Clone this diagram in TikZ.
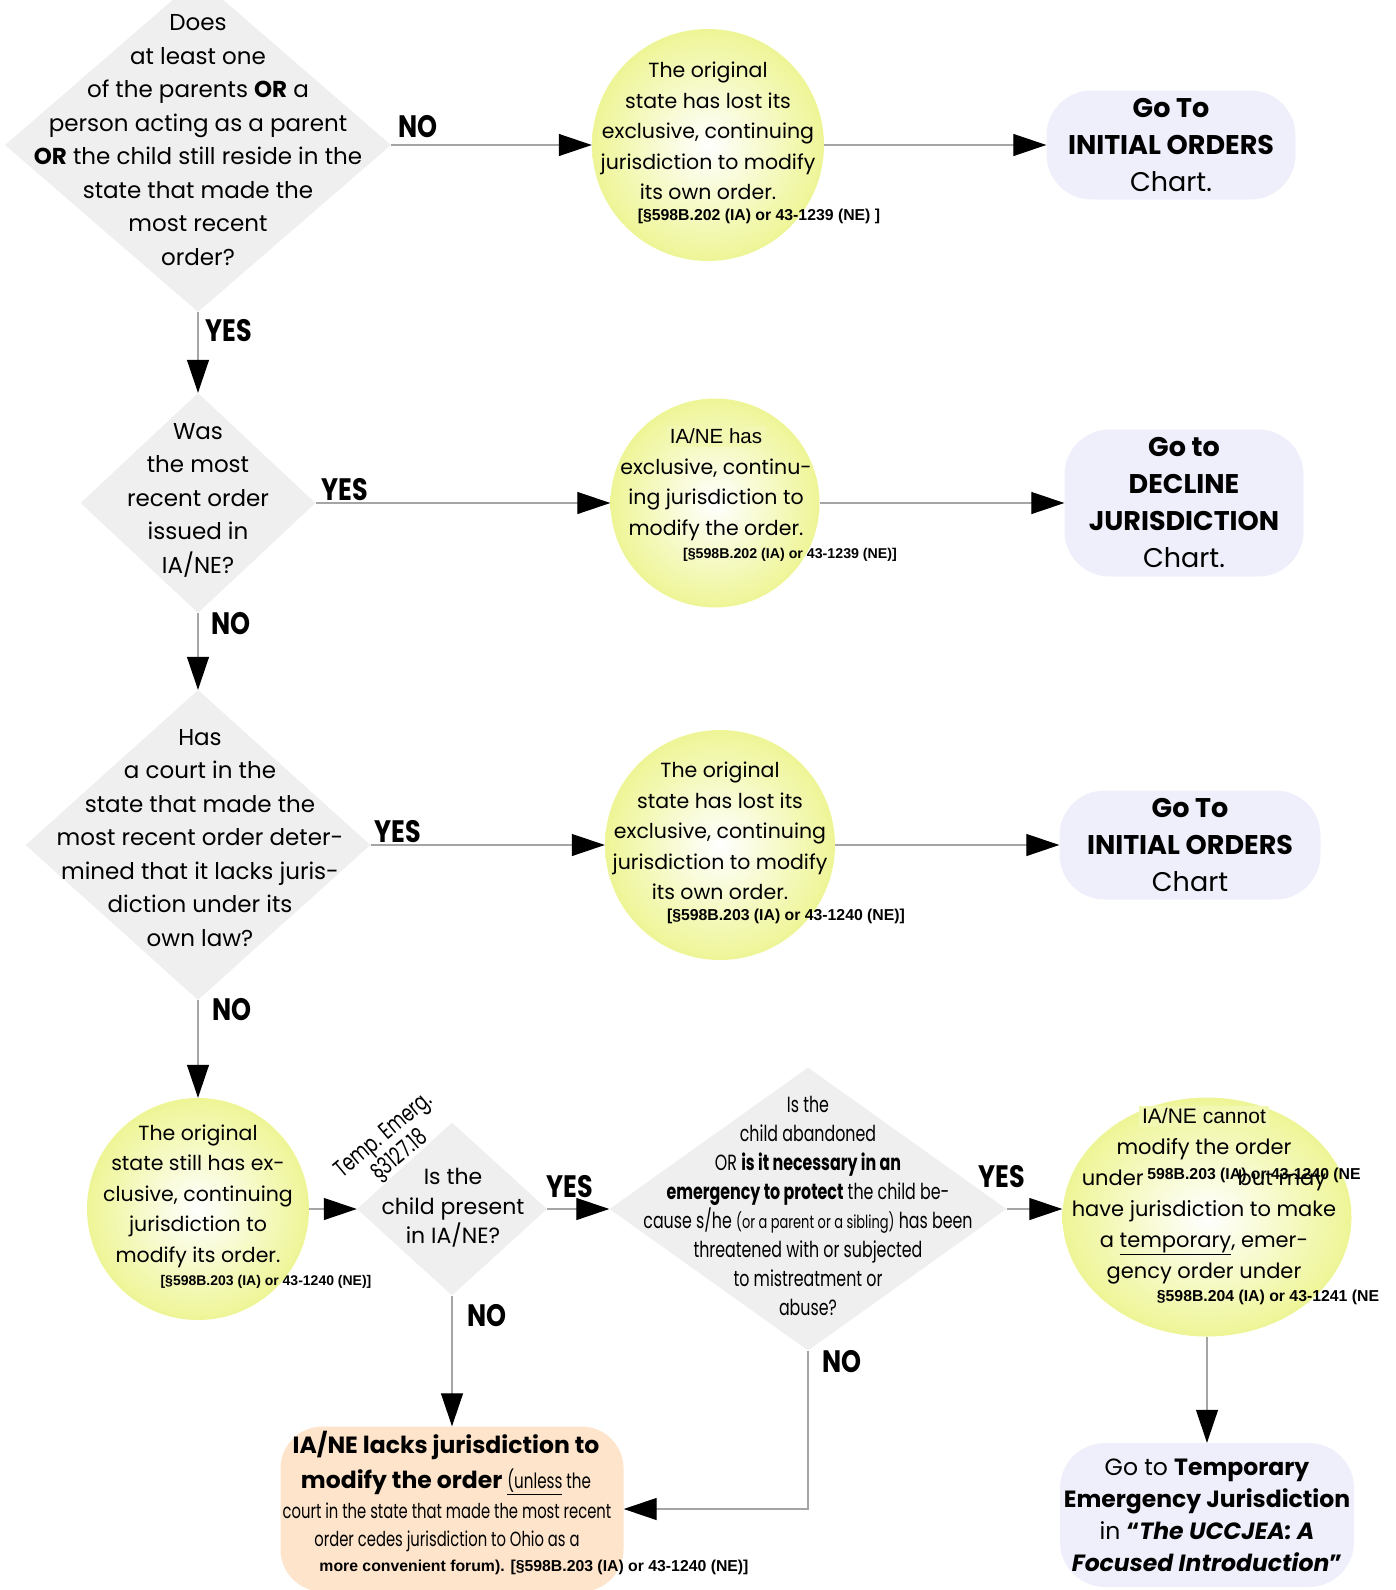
\documentclass[tikz,border=0pt]{standalone}
\usepackage{fontspec}
\setmainfont{Poppins}
\newfontfamily\condfont[FakeStretch=0.72]{Poppins}
\newfontfamily\ansfont[FakeStretch=0.82]{Poppins}
\newfontfamily\citefont{Liberation Sans}
\usetikzlibrary{shapes.geometric,arrows.meta}
\definecolor{dgray}{RGB}{239,239,239}
\definecolor{lgray}{RGB}{165,165,165}
\definecolor{cyel}{RGB}{238,245,150}
\definecolor{hyel}{RGB}{242,247,178}
\definecolor{lav}{RGB}{239,239,252}
\definecolor{peach}{RGB}{253,228,203}
\begin{document}
\begin{tikzpicture}[x=1pt,y=-1pt,
	decision/.style={diamond,fill=dgray,inner sep=0pt},
	ball/.style={circle,inner sep=0pt,inner color=white,outer color=cyel},
	oval/.style={ellipse,inner sep=0pt,inner color=white,outer color=cyel},
	goto/.style={rectangle,rounded corners=45pt,fill=lav,inner sep=0pt,align=center,font=\fontsize{27}{37}\selectfont},
	qtext/.style={align=center,inner sep=0pt,font=\fontsize{23}{33.5}\selectfont},
	btext/.style={align=center,inner sep=0pt,font=\fontsize{20.5}{30.5}\selectfont},
	ref/.style={inner sep=0pt,font=\citefont\bfseries\fontsize{15.8}{18}\selectfont},
	ans/.style={inner sep=0pt,font=\ansfont\bfseries\fontsize{31}{31}\selectfont},
	flow/.style={draw=lgray,line width=1.2pt,-{Triangle[length=33pt,width=22pt,color=black]}}]
	\useasboundingbox (0,0) rectangle (1396,1590);
	\clip (0,0) rectangle (1396,1590);
	% first row
	\node[decision,minimum width=386pt,minimum height=334pt] (d1) at (198,145) {};
	\node[qtext] (d1t) at (198,140) {Does\\at least one\\of the parents \textbf{OR} a\\person acting as a parent\\\textbf{OR} the child still reside in the\\state that made the\\most recent\\order?};
	\node[ball,minimum size=232pt] (c1) at (708,145) {};
	\node[btext] (c1t) at (708,131) {The original\\state has lost its\\exclusive, continuing\\jurisdiction to modify\\its own order.};
	\node[ref] (c1r) at (759,216) {[§598B.202 (IA) or 43-1239 (NE) ]};
	\node[goto,minimum width=249pt,minimum height=109pt] (b1) at (1171,145) {\textbf{Go To}\\\textbf{INITIAL ORDERS}\\Chart.};
	% second row
	\node[decision,minimum width=235pt,minimum height=220pt] (d2) at (198,503) {};
	\node[qtext] (d2t) at (198,500) {Was\\the most\\recent order\\issued in\\IA/NE?};
	\node[ball,minimum size=209pt] (c2) at (715,503) {};
	\node[btext] (c2t) at (716,483) {{\citefont\colorbox{hyel}{IA/NE has}}\\exclusive, continu-\\ing jurisdiction to\\modify the order.};
	\node[ref,font=\citefont\bfseries\fontsize{14.2}{16}\selectfont] (c2r) at (790,555) {[§598B.202 (IA) or 43-1239 (NE)]};
	\node[goto,minimum width=239pt,minimum height=147pt] (b2) at (1184,503) {\textbf{Go to}\\\textbf{DECLINE}\\\textbf{JURISDICTION}\\Chart.};
	% third row
	\node[decision,minimum width=345pt,minimum height=310pt] (d3) at (198,845) {};
	\node[qtext] (d3t) at (200,838) {Has\\a court in the\\state that made the\\most recent order deter-\\mined that it lacks juris-\\diction under its\\own law?};
	\node[ball,minimum size=230pt] (c3) at (720,845) {};
	\node[btext] (c3t) at (720,831) {The original\\state has lost its\\exclusive, continuing\\jurisdiction to modify\\its own order.};
	\node[ref] (c3r) at (786,916) {[§598B.203 (IA) or 43-1240 (NE)]};
	\node[goto,minimum width=261pt,minimum height=109pt] (b3) at (1190,845) {\textbf{Go To}\\\textbf{INITIAL ORDERS}\\Chart};
	% fourth row
	\node[ball,minimum size=222pt] (c4) at (198,1209) {};
	\node[btext] (c4t) at (198,1196) {The original\\state still has ex-\\clusive, continuing\\jurisdiction to\\modify its order.};
	\node[ref,font=\citefont\bfseries\fontsize{14}{16}\selectfont] (c4r) at (266,1282) {[§598B.203 (IA) or 43-1240 (NE)]};
	\node[decision,minimum width=190pt,minimum height=173pt] (d4) at (452,1209) {};
	\node[qtext,font=\fontsize{22}{29.5}\selectfont] (d4t) at (453,1208) {Is the\\child present\\in IA/NE?};
	\node[rotate=40,align=center,inner sep=0pt,font=\condfont\fontsize{24}{26}\selectfont] (tag) at (392,1146) {Temp. Emerg.\\§3127.18};
	\node[decision,minimum width=397pt,minimum height=283pt] (d5) at (808,1209) {};
	\node[qtext,font=\condfont\fontsize{22}{29}\selectfont] (d5t) at (808,1206) {Is the\\child abandoned\\OR \textbf{is it necessary in an}\\\textbf{emergency to protect} the child be-\\cause s/he {\fontsize{18}{29}\selectfont(or a parent or a sibling)} has been\\threatened with or subjected\\to mistreatment or\\abuse?};
	\node[oval,minimum width=289pt,minimum height=239pt] (c5) at (1207,1217) {};
	\node[btext,font=\fontsize{21}{31}\selectfont] (c5t) at (1204,1195) {{\citefont\colorbox{hyel}{IA/NE cannot}}\\modify the order\\under\hspace{94pt}but may\\have jurisdiction to make\\a \underline{temporary}, emer-\\gency order under};
	\node[ref] (c5r) at (1254,1175) {598B.203 (IA) or 43-1240 (NE};
	\node[ref] (c5s) at (1268,1297) {§598B.204 (IA) or 43-1241 (NE};
	% bottom row
	\node[rectangle,rounded corners=42pt,fill=peach,minimum width=343pt,minimum height=165pt] (b4) at (452,1509) {};
	\node[align=center,inner sep=0pt,font=\bfseries\fontsize{23.5}{35}\selectfont] (b4t) at (446,1463) {IA/NE lacks jurisdiction to\\modify the order {\condfont\mdseries\fontsize{21}{35}\selectfont\underline{(unless} the}};
	\node[align=center,inner sep=0pt,font=\condfont\fontsize{20.5}{28}\selectfont] (b4u) at (447,1527) {court in the state that made the most recent\\order cedes jurisdiction to Ohio as a};
	\node[ref] (b4r) at (534,1567) {more convenient forum). [§598B.203 (IA) or 43-1240 (NE)]};
	\node[goto,font=\fontsize{23.5}{32}\selectfont,minimum width=294pt,minimum height=144pt] (b5) at (1207,1515) {Go to \textbf{Temporary}\\\textbf{Emergency Jurisdiction}\\in \textbf{“\textit{The UCCJEA: A}}\\\textbf{\textit{Focused Introduction}”}};
	% connectors
	\draw[flow] (d1.east) -- (c1.west);
	\draw[flow] (c1.east) -- (b1.west);
	\draw[flow] (d1.south) -- (d2.north);
	\draw[flow] (d2.east) -- (c2.west);
	\draw[flow] (c2.east) -- (b2.west);
	\draw[flow] (d2.south) -- (d3.north);
	\draw[flow] (d3.east) -- (c3.west);
	\draw[flow] (c3.east) -- (b3.west);
	\draw[flow] (d3.south) -- (c4.north);
	\draw[flow] (c4.east) -- (d4.west);
	\draw[flow] (d4.east) -- (d5.west);
	\draw[flow] (d5.east) -- (d5.east -| c5.west);
	\draw[flow] (c5.south) -- (b5.north);
	\draw[flow] (d4.south) -- (b4.north);
	\draw[flow] (d5.south) |- (b4.east);
	% answers
	\node[ans] (n1) at (418,127) {NO};
	\node[ans] (y1) at (229,331) {YES};
	\node[ans] (y2) at (345,490) {YES};
	\node[ans] (n2) at (231,624) {NO};
	\node[ans] (y3) at (398,832) {YES};
	\node[ans] (n3) at (232,1010) {NO};
	\node[ans] (y4) at (570,1187) {YES};
	\node[ans] (n4) at (487,1316) {NO};
	\node[ans] (y5) at (1002,1177) {YES};
	\node[ans] (n5) at (842,1362) {NO};
\end{tikzpicture}
\end{document}
